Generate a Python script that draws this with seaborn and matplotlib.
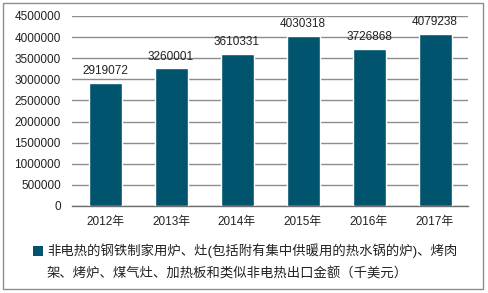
import matplotlib
matplotlib.use("Agg")
import matplotlib.pyplot as plt
import seaborn as sns
import pandas as pd
from matplotlib.patches import Rectangle, Patch

years = ["2012年", "2013年", "2014年", "2015年", "2016年", "2017年"]
values = [2919072, 3260001, 3610331, 4030318, 3726868, 4079238]
yticks = [0, 500000, 1000000, 1500000, 2000000, 2500000, 3000000, 3500000, 4000000, 4500000]
legend_line1 = "非电热的钢铁制家用炉、灶(包括附有集中供暖用的热水锅的炉)、烤肉"
legend_line2 = "架、烤炉、煤气灶、加热板和类似非电热出口金额（千美元）"

sns.set_theme(style="white")
plt.rcParams['font.family'] = ['Liberation Sans', 'Noto Sans CJK SC', 'DejaVu Sans']

df = pd.DataFrame({"year": years, "value": values})
bar_color = "#00546E"

fig = plt.figure(figsize=(4.88, 2.93), dpi=100)
ax = fig.add_axes([72/488, 1-206/293, 396/488, 190/293])

sns.barplot(data=df, x="year", y="value", color=bar_color, width=0.5,
            saturation=1, ax=ax, zorder=3)
ax.bar_label(ax.containers[0], labels=[str(v) for v in values],
             padding=4, fontsize=8.5, color="#222222")

ax.set_xlim(-0.5, len(years) - 0.5)
ax.set_ylim(0, 4500000)
ax.set_yticks(yticks)
ax.set_yticklabels([str(t) for t in yticks])
ax.set_xlabel("")
ax.set_ylabel("")
ax.tick_params(axis="both", length=0, labelsize=8.5, colors="#222222")
ax.tick_params(axis="x", pad=7)
ax.tick_params(axis="y", pad=8)
ax.grid(axis="y", color="#8c8c8c", linewidth=1, zorder=0)
ax.set_axisbelow(True)
for s in ["top", "right", "left"]:
    ax.spines[s].set_visible(False)
ax.spines["bottom"].set_color("#6e6e6e")
ax.spines["bottom"].set_linewidth(1)

handle = Patch(facecolor=bar_color, edgecolor="none")
leg = fig.legend(handles=[handle], labels=[legend_line1],
                 loc="center left", bbox_to_anchor=(33/488, 1-251/293),
                 bbox_transform=fig.transFigure, frameon=False,
                 handlelength=0.75, handleheight=0.75, handletextpad=0.3,
                 borderpad=0, borderaxespad=0, fontsize=9.6)
for t in leg.get_texts():
    t.set_color("#222222")
fig.text(47/488, 1-274/293, legend_line2, fontsize=9.6, va="center", ha="left",
         color="#222222")

fig.patches.append(Rectangle((3/488, 4/293), 480/488, 286/293, transform=fig.transFigure,
                             fill=False, edgecolor="#8c8c8c", linewidth=1))

fig.savefig("out.png", dpi=100)
